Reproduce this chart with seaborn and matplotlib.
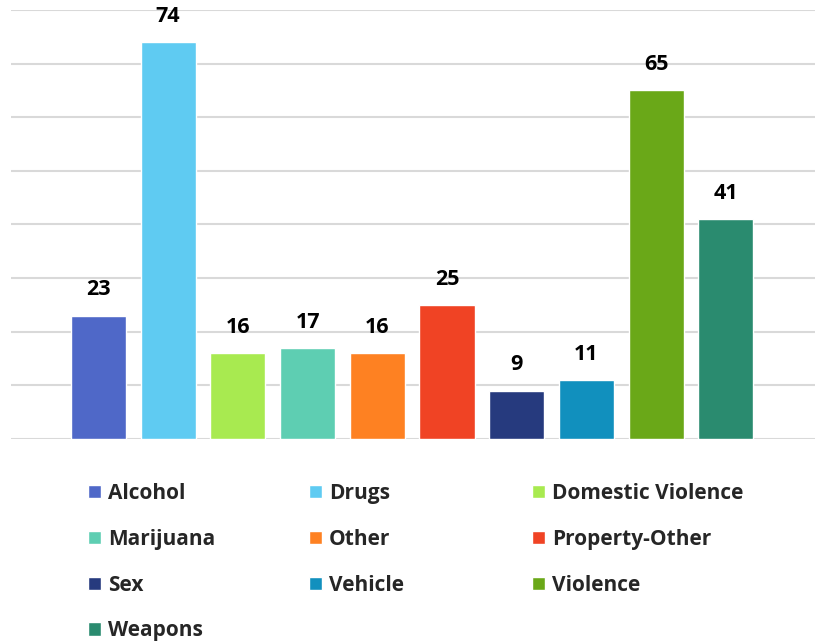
import matplotlib
matplotlib.use("Agg")
import matplotlib.pyplot as plt
import seaborn as sns
import pandas as pd

categories = ["Alcohol", "Drugs", "Domestic Violence", "Marijuana", "Other",
              "Property-Other", "Sex", "Vehicle", "Violence", "Weapons"]
values = [23, 74, 16, 17, 16, 25, 9, 11, 65, 41]
colors = ["#4F68C8", "#5FCBF2", "#A8EA50", "#5ECEB2", "#FE8122",
          "#F04324", "#263A7E", "#1190BE", "#6AA818", "#2A8B6F"]

sns.set_theme(style="white")
plt.rcParams["font.family"] = ["Open Sans", "DejaVu Sans"]

df = pd.DataFrame({"category": categories, "value": values})

W, H = 820, 644
fig = plt.figure(figsize=(W / 100, H / 100), dpi=100)
ax = fig.add_axes([11 / W, (H - 439) / H, (815 - 11) / W, (439 - 10) / H])

sns.barplot(data=df, x="category", y="value", hue="category",
            palette=colors, order=categories, hue_order=categories,
            width=0.79, saturation=1, legend=True, ax=ax)

handles, labels = ax.get_legend_handles_labels()
ax.get_legend().remove()

ax.set_ylim(0, 80)
ax.set_xlim(-1.255, 10.28)
ax.set_yticks(range(0, 81, 10))
ax.yaxis.grid(True, color="#D9D9D9", linewidth=1.5)
ax.set_axisbelow(True)
ax.tick_params(left=False, bottom=False, labelleft=False, labelbottom=False)
ax.set_xlabel("")
ax.set_ylabel("")
for s in ax.spines.values():
    s.set_visible(False)

for cont in ax.containers:
    ax.bar_label(cont, padding=11, fontsize=15.5, fontweight="bold", color="black")

# legend in 3 columns, row-wise order
cols = [[0, 3, 6, 9], [1, 4, 7], [2, 5, 8]]
xs = [88, 309, 532]
for col, x0 in zip(cols, xs):
    fig.legend([handles[i] for i in col], [labels[i] for i in col],
               loc="upper left", bbox_to_anchor=(x0 / W, (H - 483) / H),
               frameon=False, prop={"weight": "bold", "size": 15},
               handlelength=0.62, handleheight=0.62, handletextpad=0.33,
               labelspacing=1.19, borderpad=0, borderaxespad=0)

fig.savefig("out.png", dpi=100)
